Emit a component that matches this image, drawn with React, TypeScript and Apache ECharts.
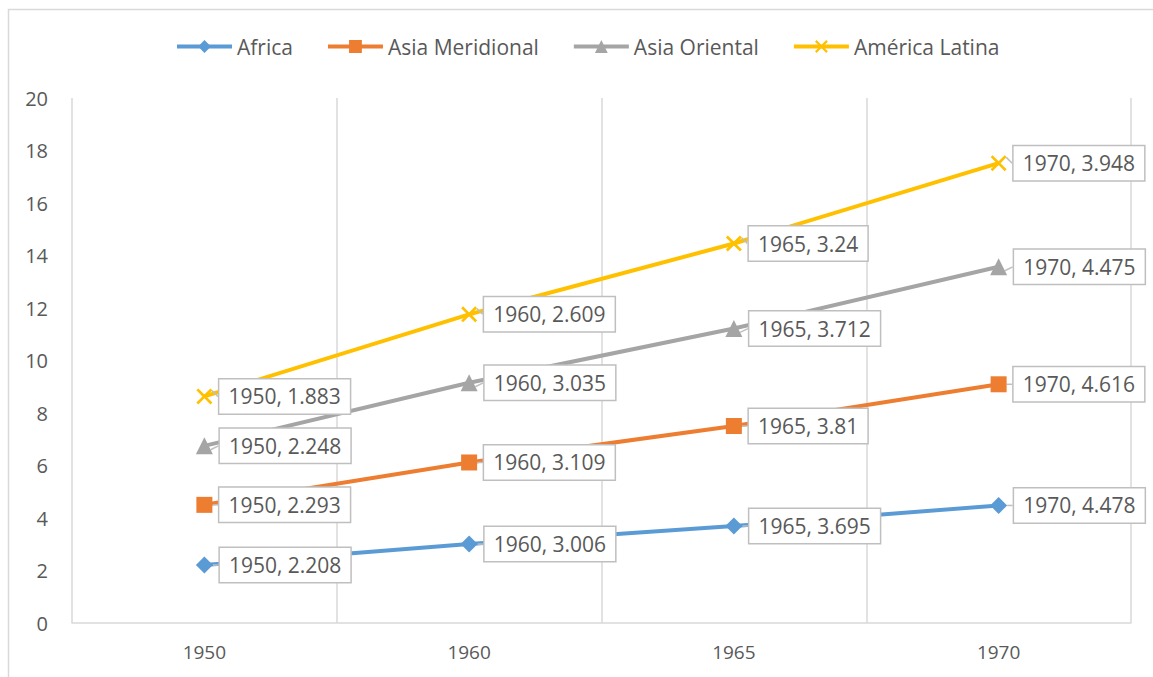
import React, { useEffect, useRef } from "react";
import * as echarts from "echarts";

const categories = ["1950", "1960", "1965", "1970"];
const africa = [2.208, 3.006, 3.695, 4.478];
const asiaMeridional = [2.293, 3.109, 3.81, 4.616];
const asiaOriental = [2.248, 3.035, 3.712, 4.475];
const americaLatina = [1.883, 2.609, 3.24, 3.948];
const seriesNames = ["Africa", "Asia Meridional", "Asia Oriental", "América Latina"];
const colors = ["#5B9BD5", "#ED7D31", "#A5A5A5", "#FFC000"];

const crossPath = "path://M0,1.2L1.2,0L5,3.8L8.8,0L10,1.2L6.2,5L10,8.8L8.8,10L5,6.2L1.2,10L0,8.8L3.8,5Z";

export default function App() {
  const ref = useRef<HTMLDivElement>(null);
  useEffect(() => {
    if (!ref.current) return;
    const chart = echarts.init(ref.current, null, { renderer: "svg" });
    const font = "'Open Sans', 'Liberation Sans', sans-serif";
    const label = {
      show: true,
      position: "right",
      distance: 1,
      formatter: "{b}, {c}",
      backgroundColor: "#ffffff",
      borderColor: "#bfbfbf",
      borderWidth: 1.5,
      padding: [7, 9, 6, 9],
      fontSize: 21,
      color: "#595959",
      fontFamily: font,
    };
    const symbols = ["diamond", "rect", "triangle", crossPath];
    const sizes = [17, 16, 17, 16];
    const datas = [africa, asiaMeridional, asiaOriental, americaLatina];
    chart.setOption({
      animation: false,
      color: colors,
      textStyle: { fontFamily: font },
      graphic: [
        {
          type: "rect",
          shape: { x: 8.5, y: 9.5, width: 1200, height: 700 },
          style: { fill: "none", stroke: "#d9d9d9", lineWidth: 1.5 },
          silent: true,
        },
      ],
      legend: {
        top: 31,
        left: 170,
        itemWidth: 55,
        itemHeight: 16,
        itemGap: 33,
        lineStyle: { width: 4 },
        textStyle: { fontSize: 21, color: "#595959", fontFamily: font },
        data: seriesNames,
      },
      grid: { left: 72, right: 22, top: 98, bottom: 54, containLabel: false },
      xAxis: {
        type: "category",
        data: categories,
        boundaryGap: true,
        axisLine: { lineStyle: { color: "#d9d9d9", width: 1.5 } },
        axisTick: { show: false },
        axisLabel: { fontSize: 19, color: "#595959", margin: 19, fontFamily: font },
        splitLine: { show: true, lineStyle: { color: "#d9d9d9", width: 1.5 } },
      },
      yAxis: {
        type: "value",
        min: 0,
        max: 20,
        interval: 2,
        axisLine: { show: false },
        axisTick: { show: false },
        splitLine: { show: false },
        axisLabel: { fontSize: 20, color: "#595959", margin: 24, fontFamily: font },
      },
      series: datas.map((d, i) => ({
        name: seriesNames[i],
        type: "line",
        stack: "total",
        data: d,
        symbol: symbols[i],
        symbolSize: sizes[i],
        lineStyle: { width: 4, color: colors[i] },
        itemStyle: { color: colors[i] },
        label,
        labelLayout: { dx: 6 },
        labelLine: { show: true, length2: 0, lineStyle: { color: "#bfbfbf", width: 1.5 } },
        z: 2 + i,
      })),
    });
    return () => chart.dispose();
  }, []);
  return (
    <div
      ref={ref}
      style={{ position: "fixed", left: 0, top: 0, width: 1153, height: 677, background: "#fff" }}
    />
  );
}
